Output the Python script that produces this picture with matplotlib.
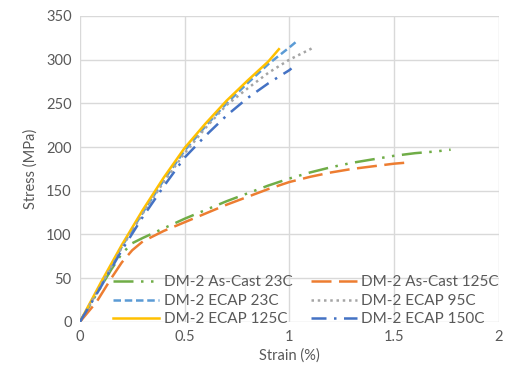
import matplotlib
matplotlib.use('Agg')
import matplotlib.pyplot as plt

# strain (%) / stress (MPa)
ac23_x = [0, 0.05, 0.1, 0.15, 0.2, 0.25, 0.3, 0.4, 0.5, 0.6, 0.7, 0.8, 0.9, 1.0, 1.1, 1.2, 1.3, 1.4, 1.5, 1.6, 1.7, 1.77]
ac23_y = [0, 20, 40, 60, 78, 90, 96, 107, 118, 128, 138, 147, 156, 164, 171, 177, 182, 186, 190, 193, 195, 197]
ac125_x = [0, 0.08, 0.15, 0.2, 0.25, 0.3, 0.4, 0.5, 0.6, 0.7, 0.8, 0.9, 1.0, 1.1, 1.2, 1.3, 1.4, 1.5, 1.55]
ac125_y = [0, 23, 50, 68, 82, 92, 104, 114, 124, 134, 143, 152, 160, 166, 171, 175, 178, 181, 182]
ecap23_x = [0, 0.1, 0.2, 0.3, 0.4, 0.5, 0.6, 0.7, 0.8, 0.9, 1.0, 1.04]
ecap23_y = [0, 42, 86, 125, 162, 196, 224, 250, 273, 295, 314, 322]
ecap95_x = [0, 0.1, 0.2, 0.3, 0.4, 0.5, 0.6, 0.7, 0.8, 0.9, 1.0, 1.1, 1.12]
ecap95_y = [0, 42, 85, 124, 160, 193, 222, 248, 267, 285, 300, 312, 315]
ecap125_x = [0, 0.1, 0.2, 0.3, 0.4, 0.5, 0.6, 0.7, 0.8, 0.9, 0.95]
ecap125_y = [0, 45, 88, 128, 165, 199, 227, 253, 276, 298, 312]
ecap150_x = [0, 0.1, 0.2, 0.3, 0.4, 0.5, 0.6, 0.7, 0.8, 0.9, 1.0, 1.01]
ecap150_y = [0, 40, 82, 120, 155, 188, 213, 236, 256, 273, 288, 290]

plt.rcParams['font.family'] = ['Lato', 'DejaVu Sans']
txt = '#595959'

fig = plt.figure(figsize=(5.09, 3.8), dpi=100)
ax = fig.add_axes([0.157, 0.153, 0.823, 0.805])

lw = 1.8
h1, = ax.plot(ac23_x, ac23_y, color='#70AD47', lw=lw, dashes=(8, 3, 1, 3, 1, 3), label='DM-2 As-Cast 23C')
h2, = ax.plot(ecap23_x, ecap23_y, color='#5B9BD5', lw=lw, dashes=(3, 1.5), label='DM-2 ECAP 23C')
h3, = ax.plot(ecap125_x, ecap125_y, color='#FFC000', lw=lw, label='DM-2 ECAP 125C')
h4, = ax.plot(ac125_x, ac125_y, color='#ED7D31', lw=lw, dashes=(8, 3), label='DM-2 As-Cast 125C')
h5, = ax.plot(ecap95_x, ecap95_y, color='#A5A5A5', lw=lw, dashes=(1, 1.5), label='DM-2 ECAP 95C')
h6, = ax.plot(ecap150_x, ecap150_y, color='#4472C4', lw=lw, dashes=(6, 3, 1, 3), label='DM-2 ECAP 150C')

ax.set_xlim(0, 2)
ax.set_ylim(0, 350)
ax.set_xticks([0, 0.5, 1, 1.5, 2])
ax.set_xticklabels(['0', '0.5', '1', '1.5', '2'])
ax.set_yticks(range(0, 351, 50))
ax.grid(True, color='#D9D9D9', lw=1)
ax.set_axisbelow(True)
for s in ax.spines.values():
    s.set_visible(False)
ax.tick_params(length=0, labelsize=10.5, colors=txt, pad=6)
ax.set_xlabel('Strain (%)', fontsize=10.5, color=txt, labelpad=3)
ax.set_ylabel('Stress (MPa)', fontsize=10.5, color=txt, labelpad=6)

leg = ax.legend(handles=[h1, h2, h3, h4, h5, h6], ncol=2, loc='lower right',
                bbox_to_anchor=(1.015, -0.035), frameon=False, fontsize=11,
                handlelength=3.0, handletextpad=0.3, columnspacing=1.2,
                labelspacing=0.3, borderaxespad=0)
for t in leg.get_texts():
    t.set_color(txt)

fig.savefig('out.png', dpi=100)
